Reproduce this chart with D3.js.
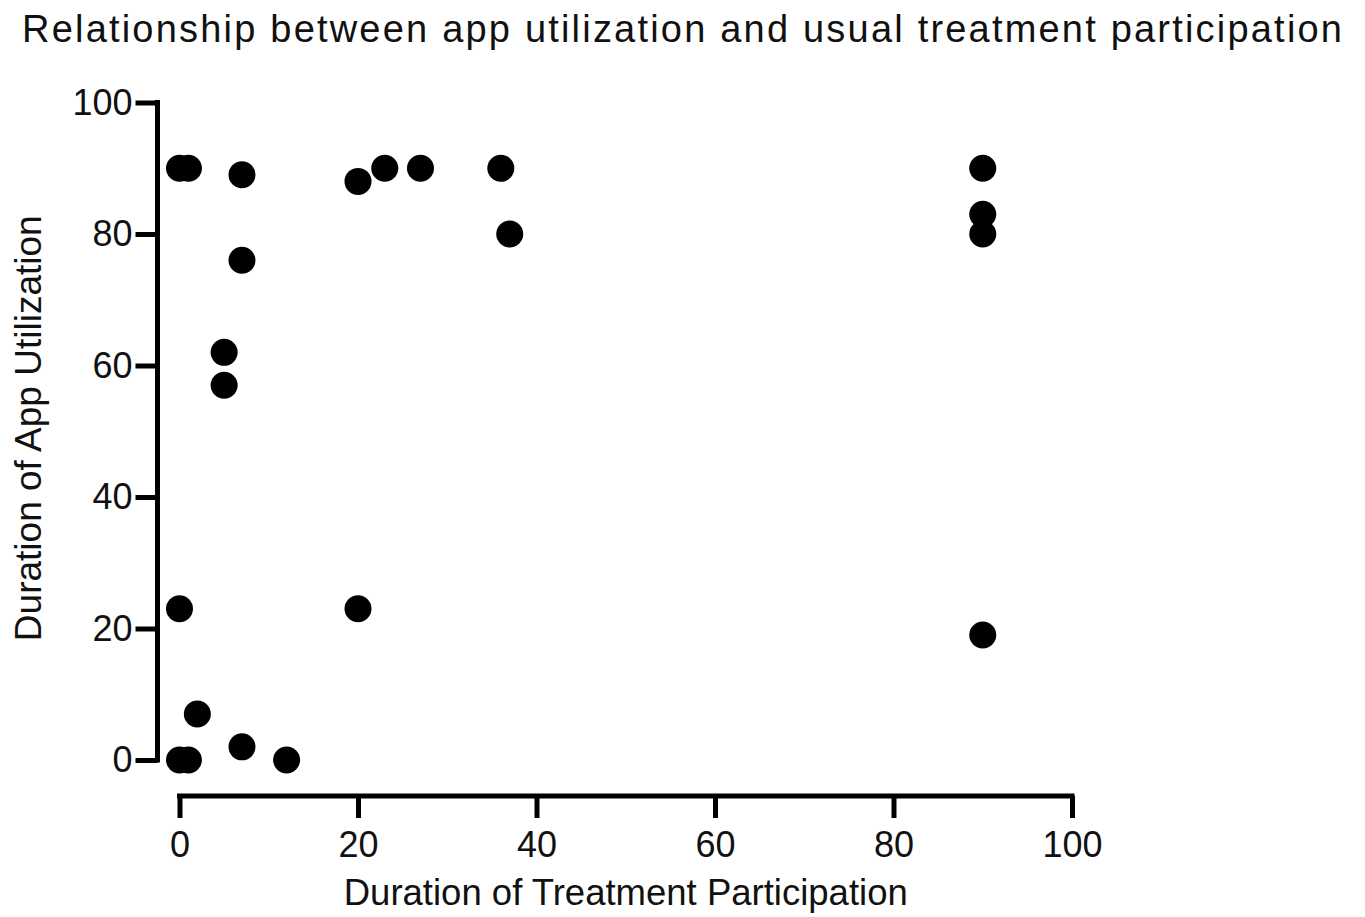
<!DOCTYPE html>
<html>
<head>
<meta charset="utf-8">
<script src="https://cdn.jsdelivr.net/npm/d3@7"></script>
<style>
    body { margin: 0; background: #fff; }
    svg text { font-family: "Liberation Sans", Arial, sans-serif; fill: #111; }
</style>
</head>
<body>
<div id="chart"></div>
<script>
    // duration of treatment participation (x) and app utilization (y), per participant
    const participation = [0, 1, 7, 20, 23, 27, 36, 37, 7, 5, 5, 90, 90, 90, 0, 20, 2, 0, 1, 7, 12, 90];
    const utilization   = [90, 90, 89, 88, 90, 90, 90, 80, 76, 62, 57, 90, 83, 80, 23, 23, 7, 0, 0, 2, 0, 19];
    const xTicks = [0, 20, 40, 60, 80, 100];
    const yTicks = [0, 20, 40, 60, 80, 100];

    const title = "Relationship between app utilization and usual treatment participation";
    const xLabel = "Duration of Treatment Participation";
    const yLabel = "Duration of App Utilization";

    const width = 1365, height = 917;

    let svg = d3.select("#chart").append("svg")
        .attr("width", width)
        .attr("height", height);

    let x = d3.scaleLinear().domain([0, 100]).range([179.5, 1072]);
    let y = d3.scaleLinear().domain([0, 100]).range([760, 102.5]);

    // axes, detached like the prism style
    let yAxis = svg.append("g")
        .attr("transform", "translate(157.5,0)")
        .call(d3.axisLeft(y).tickValues(yTicks).tickSize(22).tickPadding(3).tickSizeOuter(0));

    let xAxis = svg.append("g")
        .attr("transform", "translate(0,796)")
        .call(d3.axisBottom(x).tickValues(xTicks).tickSize(22).tickPadding(13).tickSizeOuter(0));

    [xAxis, yAxis].forEach(g => {
        g.select(".domain").attr("stroke", "#000").attr("stroke-width", 5);
        g.selectAll(".tick line").attr("stroke", "#000").attr("stroke-width", 5);
        g.selectAll(".tick text")
            .attr("font-size", 36)
            .attr("font-family", "Liberation Sans, Arial, sans-serif")
            .attr("fill", "#111");
    });

    // extend domains to cover the stroke caps at the corners
    yAxis.select(".domain").attr("d", `M0,${y(100) - 2.5}V${y(0) + 2.5}`);
    xAxis.select(".domain").attr("d", `M${x(0) - 2.5},0H${x(100) + 2.5}`);

    svg.append("g")
        .selectAll("circle")
        .data(participation.map((p, i) => [p, utilization[i]]))
        .enter()
        .append("circle")
        .attr("cx", d => x(d[0]))
        .attr("cy", d => y(d[1]))
        .attr("r", 13.5)
        .attr("fill", "#000");

    // title is set wider than Liberation Sans runs, stretch spacing to fit
    svg.append("text")
        .attr("x", 682)
        .attr("y", 42)
        .attr("text-anchor", "middle")
        .attr("font-size", 38)
        .attr("textLength", 1320)
        .attr("lengthAdjust", "spacing")
        .text(title);

    svg.append("text")
        .attr("x", (x(0) + x(100)) / 2)
        .attr("y", 905)
        .attr("text-anchor", "middle")
        .attr("font-size", 36.5)
        .text(xLabel);

    svg.append("text")
        .attr("transform", `translate(41,${(y(0) + y(100)) / 2 - 3}) rotate(-90)`)
        .attr("text-anchor", "middle")
        .attr("font-size", 37)
        .text(yLabel);
</script>
</body>
</html>
